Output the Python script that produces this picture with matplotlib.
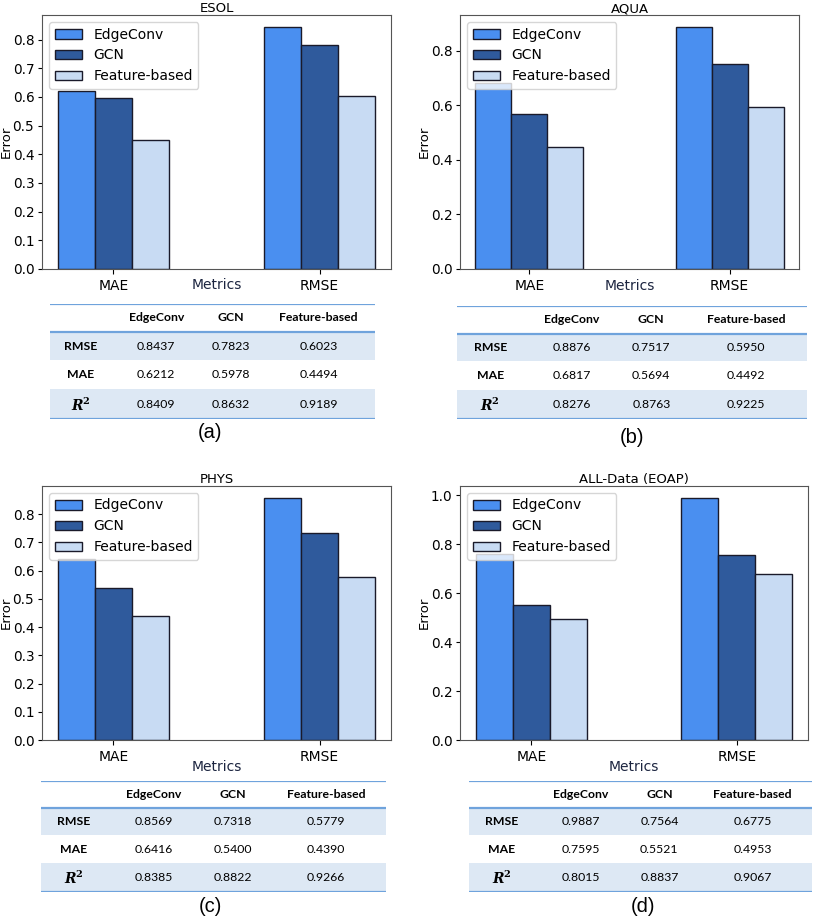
import numpy as np
import matplotlib.pyplot as plt
from matplotlib.patches import Rectangle

# Data (from the tables)
models = ['EdgeConv', 'GCN', 'Feature-based']
metrics = ['MAE', 'RMSE']
titles = ['ESOL', 'AQUA', 'PHYS', 'ALL-Data (EOAP)']
panel_tags = ['(a)', '(b)', '(c)', '(d)']

esol_rmse = [0.8437, 0.7823, 0.6023]
esol_mae = [0.6212, 0.5978, 0.4494]
esol_r2 = [0.8409, 0.8632, 0.9189]

aqua_rmse = [0.8876, 0.7517, 0.5950]
aqua_mae = [0.6817, 0.5694, 0.4492]
aqua_r2 = [0.8276, 0.8763, 0.9225]

phys_rmse = [0.8569, 0.7318, 0.5779]
phys_mae = [0.6416, 0.5400, 0.4390]
phys_r2 = [0.8385, 0.8822, 0.9266]

all_rmse = [0.9887, 0.7564, 0.6775]
all_mae = [0.7595, 0.5521, 0.4953]
all_r2 = [0.8015, 0.8837, 0.9067]

datasets = [
    (esol_rmse, esol_mae, esol_r2),
    (aqua_rmse, aqua_mae, aqua_r2),
    (phys_rmse, phys_mae, phys_r2),
    (all_rmse, all_mae, all_r2),
]

colors = ['#4a8ff0', '#2f5a9c', '#c8dbf3']
table_line = '#6fa3dc'
table_shade = '#dde8f4'

W, H = 813, 917
fig = plt.figure(figsize=(W / 100, H / 100), dpi=100)


def fr(x0, y0, x1, y1):
    # pixel box -> figure fraction rect
    return [x0 / W, 1 - y1 / H, (x1 - x0) / W, (y1 - y0) / H]


# layout in pixels
axes_boxes = [(42, 15, 391, 269), (460, 15, 799, 269),
              (42, 486, 391, 740), (460, 486, 808, 740)]
metrics_y = [285, 286, 767, 767]
table_boxes = [(50, 304, 375, 419), (457, 306, 807, 419),
               (41, 781, 386, 892), (469, 781, 812, 892)]
tag_pos = [(210, 433), (632, 437), (210, 907), (643, 907)]

width = 0.18
x = np.arange(len(metrics))

for i, (rmse, mae, r2) in enumerate(datasets):
    x0, y0, x1, y1 = axes_boxes[i]
    ax = fig.add_axes(fr(x0, y0, x1, y1))
    for j, m in enumerate(models):
        vals = [mae[j], rmse[j]]
        ax.bar(x + (j - 1) * width, vals, width, color=colors[j], label=m,
               edgecolor='#1a1a2a', linewidth=1.0)
    ax.set_xticks(x)
    ax.set_xticklabels(metrics, fontsize=10)
    ax.tick_params(axis='y', labelsize=9.8, length=3, pad=2.5)
    ax.set_title(titles[i], fontsize=9.5, pad=2)
    ax.set_ylabel('Error', fontsize=9.5, va='center')
    ax.yaxis.set_label_coords(-36 / (x1 - x0), 0.5)
    ax.set_xlabel('Metrics', fontsize=10, va='center', color='#1c2540')
    ax.xaxis.set_label_coords(0.5, -(metrics_y[i] - y1) / (y1 - y0))
    ax.legend(loc='upper left', fontsize=10)
    for s in ax.spines.values():
        s.set_color('#555555')

    # table under the chart
    tx0, ty0, tx1, ty1 = table_boxes[i]
    tax = fig.add_axes(fr(tx0, ty0, tx1, ty1))
    tax.set_xlim(0, 1)
    tax.set_ylim(1, 0)
    tax.axis('off')
    row_edges = [0, 0.245, 0.49, 0.74, 1.0]
    tax.add_patch(Rectangle((0, row_edges[1]), 1, row_edges[2] - row_edges[1],
                            color=table_shade, lw=0))
    tax.add_patch(Rectangle((0, row_edges[3]), 1, row_edges[4] - row_edges[3],
                            color=table_shade, lw=0))
    for yy in [0, row_edges[1], 1.0]:
        tax.axhline(yy, color=table_line, lw=1.6)
    col_x = [0.095, 0.327, 0.555, 0.826]
    for j, m in enumerate(models):
        tax.text(col_x[j + 1], row_edges[0] + 0.12, m, ha='center', va='center',
                 fontsize=8.8, fontweight='bold', family='Lato')
    row_names = ['RMSE', 'MAE', r'$\mathbfit{R}^{\mathbf{2}}$']
    rows = [rmse, mae, r2]
    for k in range(3):
        yc = (row_edges[k + 1] + row_edges[k + 2]) / 2
        tax.text(col_x[0], yc, row_names[k], ha='center', va='center',
                 fontsize=8.8 if k < 2 else 10, fontweight='bold', family='Lato',
                 math_fontfamily='dejavuserif')
        for j in range(3):
            tax.text(col_x[j + 1], yc, f'{rows[k][j]:.4f}', ha='center',
                     va='center', fontsize=8.8, family='Lato')

    px, py = tag_pos[i]
    fig.text(px / W, 1 - py / H, panel_tags[i], ha='center', va='center',
             fontsize=14.5, family='Liberation Sans')

fig.savefig('out.png', dpi=100)
